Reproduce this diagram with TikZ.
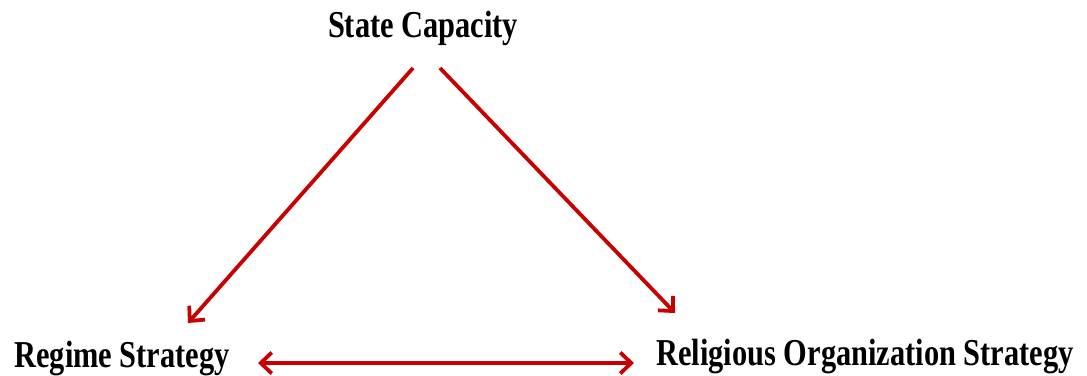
\documentclass[tikz,border=0pt]{standalone}
\usepackage{fontspec}
\setmainfont{Liberation Serif}[FakeStretch=0.8]
\usetikzlibrary{arrows.meta,calc}
\definecolor{arrred}{RGB}{200,0,0}
\tikzset{
  lbl/.style={font=\fontsize{38}{40}\selectfont\bfseries, inner sep=0pt, anchor=base, text height=26pt, text depth=8pt},
  tip/.style={Straight Barb[length=11pt,width=21pt]},
  arr/.style={draw=arrred, line width=3.8pt, -{Straight Barb[length=11pt,width=21pt]}},
  darr/.style={draw=arrred, line width=3.8pt, {Straight Barb[length=11pt,width=21pt]}-{Straight Barb[length=11pt,width=21pt]}}
}
\begin{document}
\begin{tikzpicture}[x=1pt,y=-1pt]
\useasboundingbox (0,0) rectangle (1087,375);
\node[lbl] (sc) at (423,37) {State Capacity};
\node[lbl] (rs) at (122,367) {Regime Strategy};
\node[lbl] (ros) at (865,365) {Religious Organization Strategy};
\draw[arr] ($(sc.base)+(-10,31)$) -- ($(rs.base)+(66,-44)$);
\draw[arr] ($(sc.base)+(17,31)$) -- ($(ros.base)+(-190,-52)$);
\draw[darr] ($(rs.base)+(136,-4)$) -- ($(ros.base)+(-231,-2)$);
\end{tikzpicture}
\end{document}
